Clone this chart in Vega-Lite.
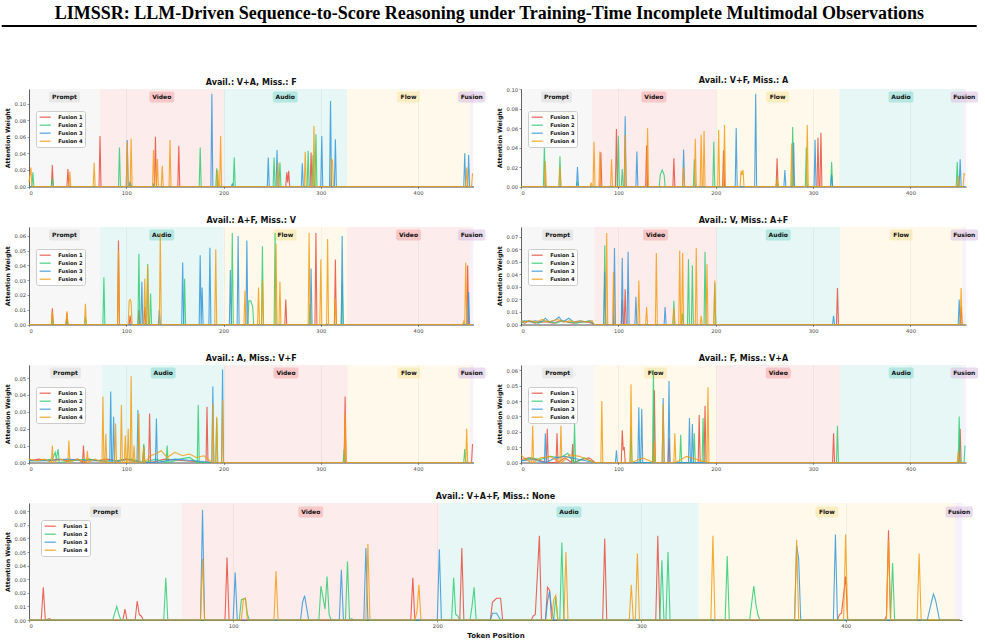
{
"$schema": "https://vega.github.io/schema/vega-lite/v6.json",
"padding": {"left": 0, "top": 5, "right": 5, "bottom": 5},
"background": "white",
"title": {"text": "LIMSSR: LLM-Driven Sequence-to-Score Reasoning under Training-Time Incomplete Multimodal Observations", "font": "Liberation Serif", "fontSize": 18, "fontWeight": "bold", "color": "#000", "offset": -12, "anchor": "middle", "baseline": "alphabetic"},
"config": {
 "view": {"stroke": null},
 "font": "DejaVu Sans",
 "axis": {"labelFont": "DejaVu Sans", "labelFontSize": 5.2, "labelColor": "#444", "labelOverlap": false, "tickSize": 2, "tickColor": "#555", "tickWidth": 0.6, "domainColor": "#333", "domainWidth": 0.9, "gridColor": "#cfcfcf", "gridOpacity": 0.45, "gridWidth": 0.6, "titleFont": "DejaVu Sans", "titleFontSize": 6.2, "titleFontWeight": "bold", "titleColor": "#111", "labelPadding": 1.5},
 "axisY": {"titlePadding": 3, "labelOverlap": false},
 "axisX": {"titleFontSize": 7, "titlePadding": 3},
 "legend": {"orient": "none", "title": null, "labelFont": "DejaVu Sans", "labelFontWeight": "bold", "labelFontSize": 5.2, "labelColor": "#111", "symbolType": "M-1.85,0H1.85", "symbolSize": 36, "symbolOffset": 3, "symbolStrokeWidth": 1.3, "symbolOpacity": 0.8, "rowPadding": 0, "padding": 2.2, "fillColor": "rgba(255,255,255,0.85)", "strokeColor": "#cccccc", "cornerRadius": 2, "labelOffset": 9},
 "title": {"font": "DejaVu Sans", "fontSize": 8, "fontWeight": "bold", "color": "#111", "offset": 1.8, "anchor": "middle", "baseline": "alphabetic"}
},
"datasets": {
 "regions": [
  {"p":1,"r":"Prompt","a":0,"b":73,"m":36.5},{"p":1,"r":"Video","a":73,"b":200,"m":136.5},{"p":1,"r":"Audio","a":200,"b":327,"m":263.5},{"p":1,"r":"Flow","a":327,"b":453.5,"m":390.2},{"p":1,"r":"Fusion","a":453.5,"b":457,"m":455.3},
  {"p":2,"r":"Prompt","a":0,"b":73,"m":36.5},{"p":2,"r":"Video","a":73,"b":200,"m":136.5},{"p":2,"r":"Flow","a":200,"b":327,"m":263.5},{"p":2,"r":"Audio","a":327,"b":453.5,"m":390.2},{"p":2,"r":"Fusion","a":453.5,"b":457,"m":455.3},
  {"p":3,"r":"Prompt","a":0,"b":73,"m":36.5},{"p":3,"r":"Audio","a":73,"b":200,"m":136.5},{"p":3,"r":"Flow","a":200,"b":327,"m":263.5},{"p":3,"r":"Video","a":327,"b":453.5,"m":390.2},{"p":3,"r":"Fusion","a":453.5,"b":457,"m":455.3},
  {"p":4,"r":"Prompt","a":0,"b":75.5,"m":37.7},{"p":4,"r":"Video","a":75.5,"b":201,"m":138.2},{"p":4,"r":"Audio","a":201,"b":327.5,"m":264.2},{"p":4,"r":"Flow","a":327.5,"b":453.5,"m":390.5},{"p":4,"r":"Fusion","a":453.5,"b":457,"m":455.3},
  {"p":5,"r":"Prompt","a":0,"b":75,"m":37.5},{"p":5,"r":"Audio","a":75,"b":201,"m":138},{"p":5,"r":"Video","a":201,"b":327.5,"m":264.2},{"p":5,"r":"Flow","a":327.5,"b":453.5,"m":390.5},{"p":5,"r":"Fusion","a":453.5,"b":457,"m":455.3},
  {"p":6,"r":"Prompt","a":0,"b":75.5,"m":37.7},{"p":6,"r":"Flow","a":75.5,"b":201,"m":138.2},{"p":6,"r":"Video","a":201,"b":327.5,"m":264.2},{"p":6,"r":"Audio","a":327.5,"b":453.5,"m":390.5},{"p":6,"r":"Fusion","a":453.5,"b":457,"m":455.3},
  {"p":7,"r":"Prompt","a":0,"b":75,"m":37.5},{"p":7,"r":"Video","a":75,"b":201,"m":138},{"p":7,"r":"Audio","a":201,"b":328,"m":264.5},{"p":7,"r":"Flow","a":328,"b":453.7,"m":390.8},{"p":7,"r":"Fusion","a":453.7,"b":457,"m":455.6}
 ],
 "p1": [
  {"s":1,"x":0,"y":0},{"s":1,"x":23,"y":0},{"s":1,"x":24,"y":0.026},{"s":1,"x":25,"y":0},{"s":1,"x":39,"y":0},{"s":1,"x":40,"y":0.021},{"s":1,"x":41,"y":0},{"s":1,"x":72,"y":0},{"s":1,"x":73,"y":0.061},{"s":1,"x":74,"y":0},{"s":1,"x":129,"y":0},{"s":1,"x":130,"y":0.06},{"s":1,"x":131,"y":0},{"s":1,"x":153,"y":0},{"s":1,"x":154,"y":0.049},{"s":1,"x":155,"y":0},{"s":1,"x":264,"y":0},{"s":1,"x":265,"y":0.017},{"s":1,"x":266,"y":0.005},{"s":1,"x":267,"y":0.019},{"s":1,"x":268,"y":0},{"s":1,"x":289,"y":0},{"s":1,"x":290,"y":0.041},{"s":1,"x":291,"y":0},{"s":1,"x":456,"y":0},
  {"s":2,"x":0,"y":0},{"s":2,"x":3,"y":0},{"s":2,"x":4,"y":0.017},{"s":2,"x":5,"y":0},{"s":2,"x":23,"y":0},{"s":2,"x":24,"y":0.01},{"s":2,"x":25,"y":0},{"s":2,"x":92,"y":0},{"s":2,"x":93,"y":0.047},{"s":2,"x":94,"y":0},{"s":2,"x":103,"y":0},{"s":2,"x":104,"y":0.005},{"s":2,"x":105,"y":0},{"s":2,"x":127,"y":0},{"s":2,"x":128,"y":0.003},{"s":2,"x":129,"y":0},{"s":2,"x":175,"y":0},{"s":2,"x":176,"y":0.047},{"s":2,"x":177,"y":0},{"s":2,"x":192,"y":0},{"s":2,"x":193,"y":0.022},{"s":2,"x":194,"y":0},{"s":2,"x":210,"y":0},{"s":2,"x":211,"y":0.035},{"s":2,"x":212,"y":0},{"s":2,"x":251,"y":0},{"s":2,"x":252,"y":0.035},{"s":2,"x":253,"y":0},{"s":2,"x":257,"y":0},{"s":2,"x":258,"y":0.029},{"s":2,"x":259,"y":0},{"s":2,"x":286,"y":0},{"s":2,"x":287,"y":0.043},{"s":2,"x":288,"y":0},{"s":2,"x":291,"y":0},{"s":2,"x":292,"y":0.038},{"s":2,"x":293,"y":0},{"s":2,"x":294,"y":0},{"s":2,"x":295,"y":0.063},{"s":2,"x":296,"y":0},{"s":2,"x":456,"y":0},
  {"s":3,"x":0,"y":0},{"s":3,"x":100,"y":0},{"s":3,"x":101,"y":0.056},{"s":3,"x":102,"y":0},{"s":3,"x":103,"y":0},{"s":3,"x":104,"y":0.006},{"s":3,"x":105,"y":0},{"s":3,"x":187,"y":0},{"s":3,"x":188,"y":0.112},{"s":3,"x":189,"y":0},{"s":3,"x":208,"y":0},{"s":3,"x":209,"y":0.003},{"s":3,"x":210,"y":0},{"s":3,"x":245,"y":0},{"s":3,"x":246,"y":0.035},{"s":3,"x":247,"y":0},{"s":3,"x":254,"y":0},{"s":3,"x":255,"y":0.044},{"s":3,"x":256,"y":0},{"s":3,"x":280,"y":0},{"s":3,"x":281,"y":0.028},{"s":3,"x":282,"y":0},{"s":3,"x":300,"y":0},{"s":3,"x":301,"y":0.061},{"s":3,"x":302,"y":0},{"s":3,"x":309,"y":0},{"s":3,"x":310,"y":0.103},{"s":3,"x":311,"y":0},{"s":3,"x":314,"y":0},{"s":3,"x":315,"y":0.057},{"s":3,"x":316,"y":0},{"s":3,"x":447,"y":0},{"s":3,"x":448,"y":0.04},{"s":3,"x":449,"y":0},{"s":3,"x":451,"y":0},{"s":3,"x":452,"y":0.038},{"s":3,"x":453,"y":0},{"s":3,"x":456,"y":0},
  {"s":4,"x":0,"y":0.005},{"s":4,"x":2,"y":0.023},{"s":4,"x":3,"y":0},{"s":4,"x":41,"y":0},{"s":4,"x":42,"y":0.018},{"s":4,"x":43,"y":0},{"s":4,"x":66,"y":0},{"s":4,"x":67,"y":0.029},{"s":4,"x":68,"y":0},{"s":4,"x":100,"y":0},{"s":4,"x":101,"y":0.054},{"s":4,"x":102,"y":0},{"s":4,"x":104,"y":0},{"s":4,"x":105,"y":0.058},{"s":4,"x":106,"y":0},{"s":4,"x":127,"y":0},{"s":4,"x":128,"y":0.044},{"s":4,"x":129,"y":0},{"s":4,"x":131,"y":0},{"s":4,"x":132,"y":0.033},{"s":4,"x":133,"y":0},{"s":4,"x":136,"y":0},{"s":4,"x":137,"y":0.025},{"s":4,"x":138,"y":0},{"s":4,"x":144,"y":0},{"s":4,"x":145,"y":0.056},{"s":4,"x":146,"y":0},{"s":4,"x":193,"y":0},{"s":4,"x":194,"y":0.02},{"s":4,"x":195,"y":0},{"s":4,"x":196,"y":0},{"s":4,"x":197,"y":0.061},{"s":4,"x":198,"y":0},{"s":4,"x":255,"y":0},{"s":4,"x":256,"y":0.029},{"s":4,"x":257,"y":0},{"s":4,"x":283,"y":0},{"s":4,"x":284,"y":0.042},{"s":4,"x":285,"y":0},{"s":4,"x":292,"y":0},{"s":4,"x":293,"y":0.073},{"s":4,"x":294,"y":0},{"s":4,"x":310,"y":0},{"s":4,"x":311,"y":0.033},{"s":4,"x":312,"y":0.032},{"s":4,"x":313,"y":0},{"s":4,"x":449,"y":0},{"s":4,"x":450,"y":0.023},{"s":4,"x":451,"y":0},{"s":4,"x":455,"y":0},{"s":4,"x":456,"y":0.016}
 ],
 "p2": [
  {"s":1,"x":0,"y":0},{"s":1,"x":81,"y":0},{"s":1,"x":82,"y":0.035},{"s":1,"x":83,"y":0},{"s":1,"x":97,"y":0},{"s":1,"x":98,"y":0.059},{"s":1,"x":99,"y":0},{"s":1,"x":128,"y":0},{"s":1,"x":129,"y":0.042},{"s":1,"x":130,"y":0},{"s":1,"x":156,"y":0},{"s":1,"x":157,"y":0.029},{"s":1,"x":158,"y":0},{"s":1,"x":207,"y":0},{"s":1,"x":208,"y":0.037},{"s":1,"x":209,"y":0},{"s":1,"x":262,"y":0},{"s":1,"x":263,"y":0.029},{"s":1,"x":264,"y":0},{"s":1,"x":304,"y":0},{"s":1,"x":305,"y":0.05},{"s":1,"x":306,"y":0},{"s":1,"x":307,"y":0},{"s":1,"x":308,"y":0.055},{"s":1,"x":309,"y":0},{"s":1,"x":456,"y":0},
  {"s":2,"x":0,"y":0},{"s":2,"x":23,"y":0},{"s":2,"x":24,"y":0.042},{"s":2,"x":25,"y":0},{"s":2,"x":39,"y":0},{"s":2,"x":40,"y":0.031},{"s":2,"x":41,"y":0},{"s":2,"x":57,"y":0},{"s":2,"x":58,"y":0.005},{"s":2,"x":59,"y":0},{"s":2,"x":99,"y":0},{"s":2,"x":100,"y":0.052},{"s":2,"x":101,"y":0},{"s":2,"x":103,"y":0},{"s":2,"x":104,"y":0.018},{"s":2,"x":105,"y":0},{"s":2,"x":142,"y":0},{"s":2,"x":143,"y":0.012},{"s":2,"x":145,"y":0.017},{"s":2,"x":147,"y":0.012},{"s":2,"x":148,"y":0},{"s":2,"x":177,"y":0},{"s":2,"x":178,"y":0.028},{"s":2,"x":179,"y":0},{"s":2,"x":197,"y":0},{"s":2,"x":198,"y":0.046},{"s":2,"x":199,"y":0},{"s":2,"x":262,"y":0},{"s":2,"x":263,"y":0.008},{"s":2,"x":264,"y":0},{"s":2,"x":278,"y":0},{"s":2,"x":279,"y":0.061},{"s":2,"x":280,"y":0},{"s":2,"x":292,"y":0},{"s":2,"x":293,"y":0.04},{"s":2,"x":294,"y":0},{"s":2,"x":318,"y":0},{"s":2,"x":319,"y":0.025},{"s":2,"x":320,"y":0},{"s":2,"x":447,"y":0},{"s":2,"x":448,"y":0.025},{"s":2,"x":449,"y":0},{"s":2,"x":456,"y":0},
  {"s":3,"x":0,"y":0},{"s":3,"x":57,"y":0},{"s":3,"x":58,"y":0.02},{"s":3,"x":59,"y":0},{"s":3,"x":106,"y":0},{"s":3,"x":107,"y":0.072},{"s":3,"x":108,"y":0},{"s":3,"x":118,"y":0},{"s":3,"x":119,"y":0.036},{"s":3,"x":120,"y":0},{"s":3,"x":166,"y":0},{"s":3,"x":167,"y":0.038},{"s":3,"x":168,"y":0},{"s":3,"x":220,"y":0},{"s":3,"x":221,"y":0.06},{"s":3,"x":222,"y":0},{"s":3,"x":240,"y":0},{"s":3,"x":241,"y":0.095},{"s":3,"x":242,"y":0},{"s":3,"x":270,"y":0},{"s":3,"x":271,"y":0.017},{"s":3,"x":272,"y":0},{"s":3,"x":279,"y":0},{"s":3,"x":280,"y":0.045},{"s":3,"x":281,"y":0},{"s":3,"x":301,"y":0},{"s":3,"x":302,"y":0.048},{"s":3,"x":303,"y":0},{"s":3,"x":318,"y":0},{"s":3,"x":319,"y":0.012},{"s":3,"x":320,"y":0},{"s":3,"x":450,"y":0},{"s":3,"x":451,"y":0.028},{"s":3,"x":452,"y":0},{"s":3,"x":456,"y":0},
  {"s":4,"x":0,"y":0},{"s":4,"x":24,"y":0},{"s":4,"x":25,"y":0.026},{"s":4,"x":26,"y":0},{"s":4,"x":39,"y":0},{"s":4,"x":40,"y":0.02},{"s":4,"x":41,"y":0},{"s":4,"x":71,"y":0},{"s":4,"x":72,"y":0.004},{"s":4,"x":73,"y":0},{"s":4,"x":74,"y":0},{"s":4,"x":75,"y":0.046},{"s":4,"x":76,"y":0},{"s":4,"x":80,"y":0},{"s":4,"x":81,"y":0.036},{"s":4,"x":82,"y":0},{"s":4,"x":92,"y":0},{"s":4,"x":93,"y":0.028},{"s":4,"x":94,"y":0},{"s":4,"x":106,"y":0},{"s":4,"x":107,"y":0.053},{"s":4,"x":108,"y":0},{"s":4,"x":129,"y":0},{"s":4,"x":130,"y":0.06},{"s":4,"x":131,"y":0},{"s":4,"x":166,"y":0},{"s":4,"x":167,"y":0.02},{"s":4,"x":168,"y":0},{"s":4,"x":178,"y":0},{"s":4,"x":179,"y":0.049},{"s":4,"x":180,"y":0},{"s":4,"x":184,"y":0},{"s":4,"x":185,"y":0.053},{"s":4,"x":186,"y":0},{"s":4,"x":187,"y":0},{"s":4,"x":188,"y":0.057},{"s":4,"x":189,"y":0},{"s":4,"x":202,"y":0},{"s":4,"x":203,"y":0.058},{"s":4,"x":204,"y":0},{"s":4,"x":208,"y":0},{"s":4,"x":209,"y":0.063},{"s":4,"x":210,"y":0},{"s":4,"x":225,"y":0},{"s":4,"x":226,"y":0.016},{"s":4,"x":227,"y":0.012},{"s":4,"x":228,"y":0.017},{"s":4,"x":229,"y":0},{"s":4,"x":262,"y":0},{"s":4,"x":263,"y":0.008},{"s":4,"x":264,"y":0},{"s":4,"x":277,"y":0},{"s":4,"x":278,"y":0.044},{"s":4,"x":279,"y":0},{"s":4,"x":293,"y":0},{"s":4,"x":294,"y":0.063},{"s":4,"x":295,"y":0},{"s":4,"x":448,"y":0},{"s":4,"x":449,"y":0.011},{"s":4,"x":450,"y":0},{"s":4,"x":454,"y":0},{"s":4,"x":455,"y":0.013},{"s":4,"x":456,"y":0.012}
 ],
 "p3": [
  {"s":1,"x":0,"y":0},{"s":1,"x":23,"y":0},{"s":1,"x":24,"y":0.011},{"s":1,"x":25,"y":0},{"s":1,"x":38,"y":0},{"s":1,"x":39,"y":0.008},{"s":1,"x":40,"y":0},{"s":1,"x":91,"y":0},{"s":1,"x":92,"y":0.057},{"s":1,"x":93,"y":0},{"s":1,"x":103,"y":0},{"s":1,"x":104,"y":0.006},{"s":1,"x":105,"y":0},{"s":1,"x":112,"y":0},{"s":1,"x":113,"y":0.01},{"s":1,"x":114,"y":0},{"s":1,"x":118,"y":0},{"s":1,"x":119,"y":0.012},{"s":1,"x":120,"y":0},{"s":1,"x":263,"y":0},{"s":1,"x":264,"y":0.017},{"s":1,"x":265,"y":0},{"s":1,"x":294,"y":0},{"s":1,"x":295,"y":0.062},{"s":1,"x":296,"y":0},{"s":1,"x":314,"y":0},{"s":1,"x":315,"y":0.044},{"s":1,"x":316,"y":0},{"s":1,"x":450,"y":0},{"s":1,"x":451,"y":0.04},{"s":1,"x":452,"y":0},{"s":1,"x":456,"y":0},
  {"s":2,"x":0,"y":0},{"s":2,"x":23,"y":0},{"s":2,"x":24,"y":0.004},{"s":2,"x":25,"y":0},{"s":2,"x":38,"y":0},{"s":2,"x":39,"y":0.003},{"s":2,"x":40,"y":0},{"s":2,"x":57,"y":0},{"s":2,"x":58,"y":0.005},{"s":2,"x":59,"y":0},{"s":2,"x":76,"y":0},{"s":2,"x":77,"y":0.032},{"s":2,"x":78,"y":0},{"s":2,"x":112,"y":0},{"s":2,"x":113,"y":0.048},{"s":2,"x":114,"y":0},{"s":2,"x":121,"y":0},{"s":2,"x":122,"y":0.041},{"s":2,"x":123,"y":0},{"s":2,"x":124,"y":0},{"s":2,"x":125,"y":0.021},{"s":2,"x":126,"y":0},{"s":2,"x":159,"y":0},{"s":2,"x":160,"y":0.031},{"s":2,"x":161,"y":0},{"s":2,"x":208,"y":0},{"s":2,"x":209,"y":0.062},{"s":2,"x":210,"y":0},{"s":2,"x":225,"y":0},{"s":2,"x":226,"y":0.016},{"s":2,"x":228,"y":0.016},{"s":2,"x":230,"y":0.012},{"s":2,"x":231,"y":0},{"s":2,"x":239,"y":0},{"s":2,"x":240,"y":0.053},{"s":2,"x":241,"y":0},{"s":2,"x":252,"y":0},{"s":2,"x":253,"y":0.062},{"s":2,"x":254,"y":0},{"s":2,"x":288,"y":0},{"s":2,"x":289,"y":0.014},{"s":2,"x":290,"y":0},{"s":2,"x":321,"y":0},{"s":2,"x":322,"y":0.028},{"s":2,"x":323,"y":0},{"s":2,"x":456,"y":0},
  {"s":3,"x":0,"y":0},{"s":3,"x":115,"y":0},{"s":3,"x":116,"y":0.029},{"s":3,"x":117,"y":0},{"s":3,"x":133,"y":0},{"s":3,"x":134,"y":0.01},{"s":3,"x":135,"y":0},{"s":3,"x":157,"y":0},{"s":3,"x":158,"y":0.042},{"s":3,"x":159,"y":0},{"s":3,"x":175,"y":0},{"s":3,"x":176,"y":0.047},{"s":3,"x":177,"y":0},{"s":3,"x":178,"y":0.025},{"s":3,"x":179,"y":0},{"s":3,"x":185,"y":0},{"s":3,"x":186,"y":0.052},{"s":3,"x":187,"y":0},{"s":3,"x":206,"y":0},{"s":3,"x":207,"y":0.037},{"s":3,"x":208,"y":0},{"s":3,"x":214,"y":0},{"s":3,"x":215,"y":0.06},{"s":3,"x":216,"y":0},{"s":3,"x":223,"y":0},{"s":3,"x":224,"y":0.057},{"s":3,"x":225,"y":0},{"s":3,"x":289,"y":0},{"s":3,"x":290,"y":0.038},{"s":3,"x":291,"y":0},{"s":3,"x":321,"y":0},{"s":3,"x":322,"y":0.06},{"s":3,"x":323,"y":0},{"s":3,"x":451,"y":0},{"s":3,"x":452,"y":0.022},{"s":3,"x":453,"y":0},{"s":3,"x":456,"y":0},
  {"s":4,"x":0,"y":0},{"s":4,"x":23,"y":0},{"s":4,"x":24,"y":0.009},{"s":4,"x":25,"y":0},{"s":4,"x":38,"y":0},{"s":4,"x":39,"y":0.009},{"s":4,"x":40,"y":0},{"s":4,"x":57,"y":0},{"s":4,"x":58,"y":0.014},{"s":4,"x":59,"y":0},{"s":4,"x":91,"y":0},{"s":4,"x":92,"y":0.05},{"s":4,"x":93,"y":0},{"s":4,"x":102,"y":0},{"s":4,"x":103,"y":0.016},{"s":4,"x":104,"y":0.017},{"s":4,"x":105,"y":0.015},{"s":4,"x":106,"y":0},{"s":4,"x":118,"y":0},{"s":4,"x":119,"y":0.031},{"s":4,"x":120,"y":0},{"s":4,"x":121,"y":0},{"s":4,"x":122,"y":0.04},{"s":4,"x":123,"y":0},{"s":4,"x":134,"y":0},{"s":4,"x":135,"y":0.062},{"s":4,"x":136,"y":0},{"s":4,"x":191,"y":0},{"s":4,"x":192,"y":0.051},{"s":4,"x":193,"y":0},{"s":4,"x":221,"y":0},{"s":4,"x":222,"y":0.023},{"s":4,"x":223,"y":0},{"s":4,"x":235,"y":0},{"s":4,"x":236,"y":0.025},{"s":4,"x":237,"y":0},{"s":4,"x":239,"y":0},{"s":4,"x":240,"y":0.03},{"s":4,"x":241,"y":0},{"s":4,"x":253,"y":0},{"s":4,"x":254,"y":0.055},{"s":4,"x":255,"y":0},{"s":4,"x":257,"y":0},{"s":4,"x":258,"y":0.029},{"s":4,"x":259,"y":0},{"s":4,"x":287,"y":0},{"s":4,"x":288,"y":0.062},{"s":4,"x":289,"y":0},{"s":4,"x":299,"y":0},{"s":4,"x":300,"y":0.044},{"s":4,"x":301,"y":0},{"s":4,"x":306,"y":0},{"s":4,"x":307,"y":0.058},{"s":4,"x":308,"y":0},{"s":4,"x":314,"y":0},{"s":4,"x":315,"y":0.018},{"s":4,"x":316,"y":0},{"s":4,"x":446,"y":0},{"s":4,"x":447,"y":0.002},{"s":4,"x":448,"y":0},{"s":4,"x":449,"y":0.042},{"s":4,"x":450,"y":0},{"s":4,"x":456,"y":0}
 ],
 "p4": [
  {"s":1,"x":0,"y":0.002},{"s":1,"x":4,"y":0.001},{"s":1,"x":8,"y":0.003},{"s":1,"x":14,"y":0.001},{"s":1,"x":20,"y":0.002},{"s":1,"x":27,"y":0.002},{"s":1,"x":33,"y":0.001},{"s":1,"x":40,"y":0.003},{"s":1,"x":47,"y":0.002},{"s":1,"x":54,"y":0.001},{"s":1,"x":60,"y":0.002},{"s":1,"x":67,"y":0.002},{"s":1,"x":73,"y":0.001},{"s":1,"x":75,"y":0},{"s":1,"x":103,"y":0},{"s":1,"x":104,"y":0.02},{"s":1,"x":105,"y":0},{"s":1,"x":106,"y":0},{"s":1,"x":107,"y":0.028},{"s":1,"x":108,"y":0},{"s":1,"x":324,"y":0},{"s":1,"x":325,"y":0.029},{"s":1,"x":326,"y":0},{"s":1,"x":451,"y":0},{"s":1,"x":452,"y":0.014},{"s":1,"x":453,"y":0},{"s":1,"x":456,"y":0},
  {"s":2,"x":0,"y":0.001},{"s":2,"x":6,"y":0.003},{"s":2,"x":12,"y":0.002},{"s":2,"x":18,"y":0.001},{"s":2,"x":24,"y":0.003},{"s":2,"x":30,"y":0.002},{"s":2,"x":36,"y":0.001},{"s":2,"x":43,"y":0.003},{"s":2,"x":50,"y":0.002},{"s":2,"x":57,"y":0.001},{"s":2,"x":63,"y":0.002},{"s":2,"x":70,"y":0.003},{"s":2,"x":75,"y":0},{"s":2,"x":85,"y":0},{"s":2,"x":86,"y":0.063},{"s":2,"x":87,"y":0},{"s":2,"x":156,"y":0},{"s":2,"x":157,"y":0.019},{"s":2,"x":158,"y":0},{"s":2,"x":165,"y":0},{"s":2,"x":166,"y":0.009},{"s":2,"x":167,"y":0},{"s":2,"x":171,"y":0},{"s":2,"x":172,"y":0.052},{"s":2,"x":173,"y":0},{"s":2,"x":175,"y":0},{"s":2,"x":176,"y":0.047},{"s":2,"x":177,"y":0},{"s":2,"x":188,"y":0},{"s":2,"x":189,"y":0.058},{"s":2,"x":190,"y":0},{"s":2,"x":198,"y":0},{"s":2,"x":199,"y":0.033},{"s":2,"x":200,"y":0},{"s":2,"x":456,"y":0},
  {"s":3,"x":0,"y":0.002},{"s":3,"x":3,"y":0.003},{"s":3,"x":9,"y":0.002},{"s":3,"x":15,"y":0.003},{"s":3,"x":21,"y":0.002},{"s":3,"x":25,"y":0.005},{"s":3,"x":29,"y":0.002},{"s":3,"x":34,"y":0.003},{"s":3,"x":39,"y":0.006},{"s":3,"x":43,"y":0.002},{"s":3,"x":49,"y":0.005},{"s":3,"x":54,"y":0.002},{"s":3,"x":60,"y":0.003},{"s":3,"x":66,"y":0.002},{"s":3,"x":71,"y":0.003},{"s":3,"x":75,"y":0},{"s":3,"x":85,"y":0},{"s":3,"x":86,"y":0.042},{"s":3,"x":87,"y":0},{"s":3,"x":95,"y":0},{"s":3,"x":96,"y":0.061},{"s":3,"x":97,"y":0},{"s":3,"x":103,"y":0},{"s":3,"x":104,"y":0.053},{"s":3,"x":105,"y":0},{"s":3,"x":109,"y":0},{"s":3,"x":110,"y":0.058},{"s":3,"x":111,"y":0},{"s":3,"x":117,"y":0},{"s":3,"x":118,"y":0.022},{"s":3,"x":119,"y":0},{"s":3,"x":147,"y":0},{"s":3,"x":148,"y":0.014},{"s":3,"x":149,"y":0},{"s":3,"x":320,"y":0},{"s":3,"x":321,"y":0.007},{"s":3,"x":322,"y":0},{"s":3,"x":449,"y":0},{"s":3,"x":450,"y":0.02},{"s":3,"x":451,"y":0},{"s":3,"x":456,"y":0},
  {"s":4,"x":0,"y":0.003},{"s":4,"x":5,"y":0.002},{"s":4,"x":10,"y":0.003},{"s":4,"x":16,"y":0.002},{"s":4,"x":22,"y":0.004},{"s":4,"x":27,"y":0.002},{"s":4,"x":32,"y":0.003},{"s":4,"x":38,"y":0.004},{"s":4,"x":44,"y":0.002},{"s":4,"x":50,"y":0.003},{"s":4,"x":56,"y":0.002},{"s":4,"x":62,"y":0.003},{"s":4,"x":68,"y":0.002},{"s":4,"x":73,"y":0.003},{"s":4,"x":75,"y":0},{"s":4,"x":87,"y":0},{"s":4,"x":88,"y":0.073},{"s":4,"x":89,"y":0},{"s":4,"x":94,"y":0},{"s":4,"x":95,"y":0.042},{"s":4,"x":96,"y":0},{"s":4,"x":120,"y":0},{"s":4,"x":121,"y":0.035},{"s":4,"x":122,"y":0},{"s":4,"x":128,"y":0},{"s":4,"x":129,"y":0.014},{"s":4,"x":130,"y":0},{"s":4,"x":138,"y":0},{"s":4,"x":139,"y":0.057},{"s":4,"x":140,"y":0},{"s":4,"x":156,"y":0},{"s":4,"x":157,"y":0.013},{"s":4,"x":158,"y":0},{"s":4,"x":162,"y":0},{"s":4,"x":163,"y":0.059},{"s":4,"x":164,"y":0},{"s":4,"x":165,"y":0},{"s":4,"x":166,"y":0.057},{"s":4,"x":167,"y":0},{"s":4,"x":179,"y":0},{"s":4,"x":180,"y":0.061},{"s":4,"x":181,"y":0},{"s":4,"x":184,"y":0},{"s":4,"x":185,"y":0.007},{"s":4,"x":186,"y":0},{"s":4,"x":190,"y":0},{"s":4,"x":191,"y":0.048},{"s":4,"x":192,"y":0},{"s":4,"x":198,"y":0},{"s":4,"x":199,"y":0.035},{"s":4,"x":200,"y":0},{"s":4,"x":451,"y":0},{"s":4,"x":452,"y":0.029},{"s":4,"x":453,"y":0},{"s":4,"x":456,"y":0}
 ],
 "p5": [
  {"s":1,"x":0,"y":0.001},{"s":1,"x":10,"y":0.002},{"s":1,"x":20,"y":0.001},{"s":1,"x":30,"y":0.002},{"s":1,"x":40,"y":0.001},{"s":1,"x":50,"y":0.002},{"s":1,"x":55,"y":0},{"s":1,"x":56,"y":0.01},{"s":1,"x":57,"y":0},{"s":1,"x":62,"y":0.002},{"s":1,"x":70,"y":0.001},{"s":1,"x":80,"y":0.002},{"s":1,"x":90,"y":0.001},{"s":1,"x":100,"y":0.002},{"s":1,"x":110,"y":0.001},{"s":1,"x":117,"y":0},{"s":1,"x":118,"y":0.01},{"s":1,"x":119,"y":0},{"s":1,"x":123,"y":0},{"s":1,"x":124,"y":0.029},{"s":1,"x":125,"y":0},{"s":1,"x":140,"y":0.002},{"s":1,"x":160,"y":0.001},{"s":1,"x":182,"y":0},{"s":1,"x":183,"y":0.033},{"s":1,"x":184,"y":0},{"s":1,"x":200,"y":0},{"s":1,"x":324,"y":0},{"s":1,"x":325,"y":0.039},{"s":1,"x":326,"y":0},{"s":1,"x":455,"y":0},{"s":1,"x":456,"y":0.011},
  {"s":2,"x":0,"y":0.001},{"s":2,"x":12,"y":0.001},{"s":2,"x":24,"y":0.002},{"s":2,"x":27,"y":0.006},{"s":2,"x":28,"y":0.002},{"s":2,"x":30,"y":0.008},{"s":2,"x":31,"y":0},{"s":2,"x":45,"y":0.001},{"s":2,"x":60,"y":0.002},{"s":2,"x":75,"y":0.001},{"s":2,"x":90,"y":0.001},{"s":2,"x":105,"y":0.002},{"s":2,"x":117,"y":0},{"s":2,"x":118,"y":0.011},{"s":2,"x":119,"y":0},{"s":2,"x":130,"y":0.002},{"s":2,"x":141,"y":0},{"s":2,"x":142,"y":0.01},{"s":2,"x":143,"y":0},{"s":2,"x":155,"y":0.002},{"s":2,"x":165,"y":0.003},{"s":2,"x":173,"y":0},{"s":2,"x":174,"y":0.034},{"s":2,"x":175,"y":0},{"s":2,"x":192,"y":0},{"s":2,"x":193,"y":0.026},{"s":2,"x":194,"y":0},{"s":2,"x":200,"y":0},{"s":2,"x":323,"y":0},{"s":2,"x":324,"y":0.008},{"s":2,"x":325,"y":0},{"s":2,"x":447,"y":0},{"s":2,"x":448,"y":0.008},{"s":2,"x":449,"y":0},{"s":2,"x":456,"y":0},
  {"s":3,"x":0,"y":0.001},{"s":3,"x":20,"y":0.001},{"s":3,"x":40,"y":0.002},{"s":3,"x":60,"y":0.001},{"s":3,"x":75,"y":0.001},{"s":3,"x":83,"y":0},{"s":3,"x":84,"y":0.042},{"s":3,"x":85,"y":0},{"s":3,"x":86,"y":0},{"s":3,"x":87,"y":0.027},{"s":3,"x":88,"y":0},{"s":3,"x":100,"y":0.002},{"s":3,"x":111,"y":0},{"s":3,"x":112,"y":0.031},{"s":3,"x":113,"y":0},{"s":3,"x":130,"y":0},{"s":3,"x":131,"y":0.026},{"s":3,"x":132,"y":0},{"s":3,"x":150,"y":0.002},{"s":3,"x":170,"y":0.001},{"s":3,"x":188,"y":0},{"s":3,"x":189,"y":0.045},{"s":3,"x":190,"y":0},{"s":3,"x":198,"y":0},{"s":3,"x":199,"y":0.055},{"s":3,"x":200,"y":0},{"s":3,"x":456,"y":0},
  {"s":4,"x":0,"y":0.002},{"s":4,"x":8,"y":0.001},{"s":4,"x":16,"y":0.002},{"s":4,"x":23,"y":0},{"s":4,"x":24,"y":0.01},{"s":4,"x":25,"y":0},{"s":4,"x":33,"y":0.002},{"s":4,"x":40,"y":0},{"s":4,"x":41,"y":0.013},{"s":4,"x":42,"y":0},{"s":4,"x":50,"y":0.002},{"s":4,"x":59,"y":0},{"s":4,"x":60,"y":0.007},{"s":4,"x":61,"y":0},{"s":4,"x":68,"y":0.002},{"s":4,"x":75,"y":0},{"s":4,"x":76,"y":0.039},{"s":4,"x":77,"y":0},{"s":4,"x":78,"y":0},{"s":4,"x":79,"y":0.017},{"s":4,"x":80,"y":0},{"s":4,"x":88,"y":0},{"s":4,"x":89,"y":0.023},{"s":4,"x":90,"y":0},{"s":4,"x":94,"y":0},{"s":4,"x":95,"y":0.034},{"s":4,"x":96,"y":0},{"s":4,"x":98,"y":0},{"s":4,"x":99,"y":0.016},{"s":4,"x":100,"y":0},{"s":4,"x":101,"y":0},{"s":4,"x":102,"y":0.02},{"s":4,"x":103,"y":0},{"s":4,"x":104,"y":0},{"s":4,"x":105,"y":0.051},{"s":4,"x":106,"y":0},{"s":4,"x":107,"y":0},{"s":4,"x":108,"y":0.01},{"s":4,"x":109,"y":0},{"s":4,"x":112,"y":0},{"s":4,"x":113,"y":0.029},{"s":4,"x":114,"y":0},{"s":4,"x":117,"y":0},{"s":4,"x":118,"y":0.009},{"s":4,"x":119,"y":0},{"s":4,"x":125,"y":0.004},{"s":4,"x":130,"y":0.005},{"s":4,"x":136,"y":0.007},{"s":4,"x":142,"y":0.003},{"s":4,"x":150,"y":0.006},{"s":4,"x":158,"y":0.004},{"s":4,"x":165,"y":0.005},{"s":4,"x":172,"y":0.003},{"s":4,"x":180,"y":0.004},{"s":4,"x":188,"y":0},{"s":4,"x":189,"y":0.035},{"s":4,"x":190,"y":0},{"s":4,"x":192,"y":0},{"s":4,"x":193,"y":0.027},{"s":4,"x":194,"y":0},{"s":4,"x":198,"y":0},{"s":4,"x":199,"y":0.037},{"s":4,"x":200,"y":0},{"s":4,"x":324,"y":0},{"s":4,"x":325,"y":0.029},{"s":4,"x":326,"y":0},{"s":4,"x":449,"y":0},{"s":4,"x":450,"y":0.02},{"s":4,"x":451,"y":0},{"s":4,"x":456,"y":0}
 ],
 "p6": [
  {"s":1,"x":0,"y":0.002},{"s":1,"x":8,"y":0.003},{"s":1,"x":16,"y":0.002},{"s":1,"x":26,"y":0},{"s":1,"x":27,"y":0.022},{"s":1,"x":28,"y":0},{"s":1,"x":36,"y":0},{"s":1,"x":37,"y":0.019},{"s":1,"x":38,"y":0},{"s":1,"x":45,"y":0.003},{"s":1,"x":52,"y":0},{"s":1,"x":53,"y":0.012},{"s":1,"x":54,"y":0},{"s":1,"x":62,"y":0.002},{"s":1,"x":70,"y":0.003},{"s":1,"x":76,"y":0},{"s":1,"x":103,"y":0},{"s":1,"x":104,"y":0.021},{"s":1,"x":105,"y":0.008},{"s":1,"x":106,"y":0.01},{"s":1,"x":107,"y":0},{"s":1,"x":136,"y":0},{"s":1,"x":137,"y":0.047},{"s":1,"x":138,"y":0},{"s":1,"x":151,"y":0},{"s":1,"x":152,"y":0.016},{"s":1,"x":153,"y":0},{"s":1,"x":182,"y":0},{"s":1,"x":183,"y":0.031},{"s":1,"x":184,"y":0},{"s":1,"x":188,"y":0},{"s":1,"x":189,"y":0.037},{"s":1,"x":190,"y":0},{"s":1,"x":200,"y":0},{"s":1,"x":320,"y":0},{"s":1,"x":321,"y":0.019},{"s":1,"x":322,"y":0},{"s":1,"x":450,"y":0},{"s":1,"x":451,"y":0.022},{"s":1,"x":452,"y":0},{"s":1,"x":456,"y":0},
  {"s":2,"x":0,"y":0.001},{"s":2,"x":10,"y":0.003},{"s":2,"x":20,"y":0.002},{"s":2,"x":30,"y":0.004},{"s":2,"x":40,"y":0.003},{"s":2,"x":48,"y":0.006},{"s":2,"x":54,"y":0},{"s":2,"x":55,"y":0.025},{"s":2,"x":56,"y":0},{"s":2,"x":65,"y":0.003},{"s":2,"x":75,"y":0},{"s":2,"x":112,"y":0},{"s":2,"x":113,"y":0.023},{"s":2,"x":114,"y":0},{"s":2,"x":135,"y":0},{"s":2,"x":136,"y":0.06},{"s":2,"x":137,"y":0},{"s":2,"x":163,"y":0},{"s":2,"x":164,"y":0.018},{"s":2,"x":165,"y":0},{"s":2,"x":177,"y":0},{"s":2,"x":178,"y":0.019},{"s":2,"x":179,"y":0},{"s":2,"x":186,"y":0},{"s":2,"x":187,"y":0.029},{"s":2,"x":188,"y":0},{"s":2,"x":200,"y":0},{"s":2,"x":324,"y":0},{"s":2,"x":325,"y":0.024},{"s":2,"x":326,"y":0},{"s":2,"x":449,"y":0},{"s":2,"x":450,"y":0.03},{"s":2,"x":451,"y":0},{"s":2,"x":455,"y":0},{"s":2,"x":456,"y":0.011},
  {"s":3,"x":0,"y":0.001},{"s":3,"x":12,"y":0.002},{"s":3,"x":24,"y":0},{"s":3,"x":25,"y":0.019},{"s":3,"x":26,"y":0},{"s":3,"x":35,"y":0.003},{"s":3,"x":45,"y":0.004},{"s":3,"x":60,"y":0.002},{"s":3,"x":75,"y":0},{"s":3,"x":97,"y":0},{"s":3,"x":98,"y":0.008},{"s":3,"x":99,"y":0},{"s":3,"x":120,"y":0},{"s":3,"x":121,"y":0.036},{"s":3,"x":122,"y":0},{"s":3,"x":123,"y":0},{"s":3,"x":124,"y":0.035},{"s":3,"x":125,"y":0},{"s":3,"x":145,"y":0},{"s":3,"x":146,"y":0.042},{"s":3,"x":147,"y":0},{"s":3,"x":151,"y":0},{"s":3,"x":152,"y":0.053},{"s":3,"x":153,"y":0},{"s":3,"x":172,"y":0},{"s":3,"x":173,"y":0.029},{"s":3,"x":174,"y":0},{"s":3,"x":175,"y":0},{"s":3,"x":176,"y":0.025},{"s":3,"x":177,"y":0},{"s":3,"x":200,"y":0},{"s":3,"x":456,"y":0},
  {"s":4,"x":0,"y":0.005},{"s":4,"x":5,"y":0.002},{"s":4,"x":11,"y":0},{"s":4,"x":12,"y":0.024},{"s":4,"x":13,"y":0},{"s":4,"x":20,"y":0.003},{"s":4,"x":30,"y":0.004},{"s":4,"x":40,"y":0},{"s":4,"x":41,"y":0.024},{"s":4,"x":42,"y":0},{"s":4,"x":50,"y":0.005},{"s":4,"x":60,"y":0.004},{"s":4,"x":68,"y":0.002},{"s":4,"x":75,"y":0},{"s":4,"x":82,"y":0},{"s":4,"x":83,"y":0.04},{"s":4,"x":84,"y":0},{"s":4,"x":112,"y":0},{"s":4,"x":113,"y":0.051},{"s":4,"x":114,"y":0},{"s":4,"x":125,"y":0.003},{"s":4,"x":136,"y":0},{"s":4,"x":137,"y":0.014},{"s":4,"x":138,"y":0},{"s":4,"x":145,"y":0},{"s":4,"x":146,"y":0.038},{"s":4,"x":147,"y":0},{"s":4,"x":157,"y":0},{"s":4,"x":158,"y":0.019},{"s":4,"x":159,"y":0},{"s":4,"x":170,"y":0.004},{"s":4,"x":191,"y":0},{"s":4,"x":192,"y":0.049},{"s":4,"x":193,"y":0},{"s":4,"x":200,"y":0},{"s":4,"x":448,"y":0},{"s":4,"x":449,"y":0.007},{"s":4,"x":450,"y":0},{"s":4,"x":456,"y":0}
 ],
 "p7": [
  {"s":1,"x":0,"y":0},{"s":1,"x":6,"y":0},{"s":1,"x":7,"y":0.024},{"s":1,"x":8,"y":0},{"s":1,"x":10,"y":0.001},{"s":1,"x":11,"y":0},{"s":1,"x":46,"y":0},{"s":1,"x":47,"y":0.008},{"s":1,"x":48,"y":0},{"s":1,"x":52,"y":0},{"s":1,"x":53,"y":0.014},{"s":1,"x":54,"y":0.004},{"s":1,"x":55,"y":0.003},{"s":1,"x":56,"y":0},{"s":1,"x":96,"y":0},{"s":1,"x":97,"y":0.046},{"s":1,"x":98,"y":0},{"s":1,"x":187,"y":0},{"s":1,"x":188,"y":0.031},{"s":1,"x":189,"y":0},{"s":1,"x":211,"y":0},{"s":1,"x":212,"y":0.053},{"s":1,"x":213,"y":0},{"s":1,"x":226,"y":0},{"s":1,"x":227,"y":0.013},{"s":1,"x":229,"y":0.016},{"s":1,"x":231,"y":0.016},{"s":1,"x":232,"y":0},{"s":1,"x":246,"y":0},{"s":1,"x":247,"y":0.003},{"s":1,"x":248,"y":0.004},{"s":1,"x":250,"y":0.062},{"s":1,"x":251,"y":0},{"s":1,"x":253,"y":0},{"s":1,"x":254,"y":0.024},{"s":1,"x":255,"y":0.022},{"s":1,"x":256,"y":0},{"s":1,"x":281,"y":0},{"s":1,"x":282,"y":0.06},{"s":1,"x":283,"y":0},{"s":1,"x":307,"y":0},{"s":1,"x":308,"y":0.062},{"s":1,"x":309,"y":0},{"s":1,"x":396,"y":0},{"s":1,"x":397,"y":0.004},{"s":1,"x":398,"y":0.005},{"s":1,"x":400,"y":0.032},{"s":1,"x":401,"y":0},{"s":1,"x":419,"y":0},{"s":1,"x":420,"y":0.003},{"s":1,"x":421,"y":0.066},{"s":1,"x":422,"y":0},{"s":1,"x":456,"y":0},
  {"s":2,"x":0,"y":0},{"s":2,"x":41,"y":0},{"s":2,"x":42,"y":0.005},{"s":2,"x":43,"y":0.01},{"s":2,"x":44,"y":0.004},{"s":2,"x":45,"y":0},{"s":2,"x":66,"y":0},{"s":2,"x":67,"y":0.031},{"s":2,"x":68,"y":0},{"s":2,"x":103,"y":0},{"s":2,"x":104,"y":0.015},{"s":2,"x":106,"y":0.016},{"s":2,"x":107,"y":0.004},{"s":2,"x":108,"y":0},{"s":2,"x":142,"y":0},{"s":2,"x":143,"y":0.025},{"s":2,"x":145,"y":0.008},{"s":2,"x":146,"y":0.032},{"s":2,"x":147,"y":0.004},{"s":2,"x":148,"y":0},{"s":2,"x":155,"y":0},{"s":2,"x":156,"y":0.043},{"s":2,"x":157,"y":0},{"s":2,"x":158,"y":0.001},{"s":2,"x":159,"y":0},{"s":2,"x":207,"y":0},{"s":2,"x":208,"y":0.031},{"s":2,"x":209,"y":0.004},{"s":2,"x":210,"y":0.003},{"s":2,"x":211,"y":0},{"s":2,"x":216,"y":0},{"s":2,"x":217,"y":0.01},{"s":2,"x":218,"y":0.024},{"s":2,"x":219,"y":0},{"s":2,"x":257,"y":0},{"s":2,"x":258,"y":0.017},{"s":2,"x":259,"y":0},{"s":2,"x":260,"y":0},{"s":2,"x":261,"y":0.057},{"s":2,"x":262,"y":0},{"s":2,"x":309,"y":0},{"s":2,"x":310,"y":0.044},{"s":2,"x":311,"y":0},{"s":2,"x":312,"y":0},{"s":2,"x":313,"y":0.05},{"s":2,"x":314,"y":0},{"s":2,"x":341,"y":0},{"s":2,"x":342,"y":0.047},{"s":2,"x":343,"y":0},{"s":2,"x":353,"y":0},{"s":2,"x":355,"y":0.025},{"s":2,"x":356,"y":0.012},{"s":2,"x":357,"y":0.004},{"s":2,"x":358,"y":0},{"s":2,"x":422,"y":0},{"s":2,"x":423,"y":0.042},{"s":2,"x":424,"y":0},{"s":2,"x":456,"y":0},
  {"s":3,"x":0,"y":0},{"s":3,"x":84,"y":0},{"s":3,"x":85,"y":0.081},{"s":3,"x":86,"y":0},{"s":3,"x":100,"y":0},{"s":3,"x":101,"y":0.035},{"s":3,"x":102,"y":0},{"s":3,"x":133,"y":0},{"s":3,"x":134,"y":0.013},{"s":3,"x":135,"y":0.018},{"s":3,"x":137,"y":0},{"s":3,"x":152,"y":0},{"s":3,"x":153,"y":0.037},{"s":3,"x":154,"y":0},{"s":3,"x":164,"y":0},{"s":3,"x":165,"y":0.053},{"s":3,"x":166,"y":0},{"s":3,"x":200,"y":0},{"s":3,"x":201,"y":0.052},{"s":3,"x":202,"y":0},{"s":3,"x":226,"y":0},{"s":3,"x":227,"y":0.005},{"s":3,"x":229,"y":0.005},{"s":3,"x":231,"y":0},{"s":3,"x":253,"y":0},{"s":3,"x":254,"y":0.014},{"s":3,"x":255,"y":0.021},{"s":3,"x":256,"y":0.008},{"s":3,"x":257,"y":0},{"s":3,"x":375,"y":0},{"s":3,"x":376,"y":0.055},{"s":3,"x":377,"y":0.045},{"s":3,"x":378,"y":0},{"s":3,"x":394,"y":0},{"s":3,"x":395,"y":0.063},{"s":3,"x":396,"y":0},{"s":3,"x":440,"y":0},{"s":3,"x":442,"y":0.013},{"s":3,"x":443,"y":0.019},{"s":3,"x":444,"y":0.015},{"s":3,"x":446,"y":0},{"s":3,"x":456,"y":0},
  {"s":4,"x":0,"y":0},{"s":4,"x":84,"y":0},{"s":4,"x":85,"y":0.045},{"s":4,"x":86,"y":0},{"s":4,"x":104,"y":0},{"s":4,"x":105,"y":0.015},{"s":4,"x":106,"y":0.016},{"s":4,"x":107,"y":0},{"s":4,"x":120,"y":0},{"s":4,"x":121,"y":0.036},{"s":4,"x":122,"y":0},{"s":4,"x":165,"y":0},{"s":4,"x":166,"y":0.056},{"s":4,"x":167,"y":0},{"s":4,"x":189,"y":0},{"s":4,"x":190,"y":0.006},{"s":4,"x":191,"y":0.026},{"s":4,"x":192,"y":0},{"s":4,"x":256,"y":0},{"s":4,"x":257,"y":0.015},{"s":4,"x":258,"y":0.018},{"s":4,"x":259,"y":0},{"s":4,"x":262,"y":0},{"s":4,"x":263,"y":0.05},{"s":4,"x":264,"y":0},{"s":4,"x":294,"y":0},{"s":4,"x":295,"y":0.026},{"s":4,"x":296,"y":0},{"s":4,"x":297,"y":0},{"s":4,"x":298,"y":0.049},{"s":4,"x":299,"y":0},{"s":4,"x":334,"y":0},{"s":4,"x":335,"y":0.062},{"s":4,"x":336,"y":0},{"s":4,"x":375,"y":0},{"s":4,"x":376,"y":0.059},{"s":4,"x":377,"y":0},{"s":4,"x":399,"y":0},{"s":4,"x":400,"y":0.063},{"s":4,"x":401,"y":0},{"s":4,"x":420,"y":0},{"s":4,"x":421,"y":0.059},{"s":4,"x":422,"y":0},{"s":4,"x":435,"y":0},{"s":4,"x":436,"y":0.049},{"s":4,"x":437,"y":0},{"s":4,"x":456,"y":0}
 ]
},
"vconcat": [
 {"width": 948, "height": 29.6, "data": {"values": [{"a": 0, "b": 1}]}, "mark": {"type": "rule", "strokeWidth": 2, "color": "#000"}, "encoding": {"x": {"field": "a", "type": "quantitative", "scale": {"domain": [0, 1], "nice": false, "range": [-27.3, 947.7]}, "axis": null}, "x2": {"field": "b"}, "y": {"datum": 1, "type": "quantitative", "scale": {"domain": [0, 1]}, "axis": null}}},
 {"hconcat": [
  {"width": 444.5, "height": 97.5, "title": {"text": "Avail.: V+A, Miss.: F"}, "layer": [
   {"data": {"name": "regions"}, "transform": [{"filter": "datum.p == 1"}], "mark": {"type": "rect", "opacity": 0.2}, "encoding": {"x": {"field": "a", "type": "quantitative", "scale": {"domain": [0, 457], "nice": false, "zero": false}, "axis": {"values": [0, 100, 200, 300, 400], "format": "d", "title": null}}, "x2": {"field": "b"}, "fill": {"field": "r", "type": "nominal", "scale": {"domain": ["Prompt", "Video", "Audio", "Flow", "Fusion"], "range": ["#d7d7d7", "#f5a1a1", "#81d7cf", "#fce399", "#d7b8df"]}, "legend": null}}},
   {"data": {"name": "regions"}, "transform": [{"filter": "datum.p == 1"}], "mark": {"type": "point", "filled": true, "size": 900, "opacity": 0.5, "strokeWidth": 0, "yOffset": 8}, "encoding": {"x": {"field": "m", "type": "quantitative", "axis": {"title": null}}, "y": {"datum": 0.1176, "type": "quantitative"}, "fill": {"field": "r", "type": "nominal", "legend": null}, "shape": {"field": "r", "type": "nominal", "scale": {"domain": ["Prompt", "Video", "Audio", "Flow", "Fusion"], "range": ["M-0.91,-0.36H0.91A0.12,0.12 0 0 1 1.03,-0.24V0.24A0.12,0.12 0 0 1 0.91,0.36H-0.91A0.12,0.12 0 0 1 -1.03,0.24V-0.24A0.12,0.12 0 0 1 -0.91,-0.36Z", "M-0.71,-0.36H0.71A0.12,0.12 0 0 1 0.83,-0.24V0.24A0.12,0.12 0 0 1 0.71,0.36H-0.71A0.12,0.12 0 0 1 -0.83,0.24V-0.24A0.12,0.12 0 0 1 -0.71,-0.36Z", "M-0.71,-0.36H0.71A0.12,0.12 0 0 1 0.83,-0.24V0.24A0.12,0.12 0 0 1 0.71,0.36H-0.71A0.12,0.12 0 0 1 -0.83,0.24V-0.24A0.12,0.12 0 0 1 -0.71,-0.36Z", "M-0.64,-0.36H0.64A0.12,0.12 0 0 1 0.76,-0.24V0.24A0.12,0.12 0 0 1 0.64,0.36H-0.64A0.12,0.12 0 0 1 -0.76,0.24V-0.24A0.12,0.12 0 0 1 -0.64,-0.36Z", "M-0.79,-0.36H0.79A0.12,0.12 0 0 1 0.91,-0.24V0.24A0.12,0.12 0 0 1 0.79,0.36H-0.79A0.12,0.12 0 0 1 -0.91,0.24V-0.24A0.12,0.12 0 0 1 -0.79,-0.36Z"]}, "legend": null}}},
   {"data": {"name": "regions"}, "transform": [{"filter": "datum.p == 1"}], "mark": {"type": "text", "font": "DejaVu Sans", "fontSize": 6, "fontWeight": "bold", "color": "#111", "yOffset": 8, "baseline": "middle"}, "encoding": {"x": {"field": "m", "type": "quantitative", "axis": {"title": null}}, "y": {"datum": 0.1176, "type": "quantitative"}, "text": {"field": "r"}}},
   {"data": {"name": "p1"}, "mark": {"type": "line", "strokeWidth": 1.1, "opacity": 0.85}, "encoding": {"x": {"field": "x", "type": "quantitative", "axis": {"title": null}}, "y": {"field": "y", "type": "quantitative", "scale": {"domain": [0, 0.1176], "nice": false, "zero": false}, "axis": {"values": [0, 0.02, 0.04, 0.06, 0.08, 0.1], "tickCount": 12, "format": ".2f", "labelOverlap": false, "title": "Attention Weight"}}, "color": {"field": "s", "type": "nominal", "scale": {"domain": [1, 2, 3, 4], "range": ["#e74c3c", "#2ecc71", "#3498db", "#f39c12"]}, "legend": {"legendX": 7, "legendY": 22, "labelExpr": "'Fusion ' + datum.label"}}}}
  ]},
  {"width": 445, "height": 97.5, "title": {"text": "Avail.: V+F, Miss.: A"}, "layer": [
   {"data": {"name": "regions"}, "transform": [{"filter": "datum.p == 2"}], "mark": {"type": "rect", "opacity": 0.2}, "encoding": {"x": {"field": "a", "type": "quantitative", "scale": {"domain": [0, 457], "nice": false, "zero": false}, "axis": {"values": [0, 100, 200, 300, 400], "format": "d", "title": null}}, "x2": {"field": "b"}, "fill": {"field": "r", "type": "nominal", "scale": {"domain": ["Prompt", "Video", "Audio", "Flow", "Fusion"], "range": ["#d7d7d7", "#f5a1a1", "#81d7cf", "#fce399", "#d7b8df"]}, "legend": null}}},
   {"data": {"name": "regions"}, "transform": [{"filter": "datum.p == 2"}], "mark": {"type": "point", "filled": true, "size": 900, "opacity": 0.5, "strokeWidth": 0, "yOffset": 8}, "encoding": {"x": {"field": "m", "type": "quantitative", "axis": {"title": null}}, "y": {"datum": 0.1, "type": "quantitative"}, "fill": {"field": "r", "type": "nominal", "legend": null}, "shape": {"field": "r", "type": "nominal", "scale": {"domain": ["Prompt", "Video", "Audio", "Flow", "Fusion"], "range": ["M-0.91,-0.36H0.91A0.12,0.12 0 0 1 1.03,-0.24V0.24A0.12,0.12 0 0 1 0.91,0.36H-0.91A0.12,0.12 0 0 1 -1.03,0.24V-0.24A0.12,0.12 0 0 1 -0.91,-0.36Z", "M-0.71,-0.36H0.71A0.12,0.12 0 0 1 0.83,-0.24V0.24A0.12,0.12 0 0 1 0.71,0.36H-0.71A0.12,0.12 0 0 1 -0.83,0.24V-0.24A0.12,0.12 0 0 1 -0.71,-0.36Z", "M-0.71,-0.36H0.71A0.12,0.12 0 0 1 0.83,-0.24V0.24A0.12,0.12 0 0 1 0.71,0.36H-0.71A0.12,0.12 0 0 1 -0.83,0.24V-0.24A0.12,0.12 0 0 1 -0.71,-0.36Z", "M-0.64,-0.36H0.64A0.12,0.12 0 0 1 0.76,-0.24V0.24A0.12,0.12 0 0 1 0.64,0.36H-0.64A0.12,0.12 0 0 1 -0.76,0.24V-0.24A0.12,0.12 0 0 1 -0.64,-0.36Z", "M-0.79,-0.36H0.79A0.12,0.12 0 0 1 0.91,-0.24V0.24A0.12,0.12 0 0 1 0.79,0.36H-0.79A0.12,0.12 0 0 1 -0.91,0.24V-0.24A0.12,0.12 0 0 1 -0.79,-0.36Z"]}, "legend": null}}},
   {"data": {"name": "regions"}, "transform": [{"filter": "datum.p == 2"}], "mark": {"type": "text", "font": "DejaVu Sans", "fontSize": 6, "fontWeight": "bold", "color": "#111", "yOffset": 8, "baseline": "middle"}, "encoding": {"x": {"field": "m", "type": "quantitative", "axis": {"title": null}}, "y": {"datum": 0.1, "type": "quantitative"}, "text": {"field": "r"}}},
   {"data": {"name": "p2"}, "mark": {"type": "line", "strokeWidth": 1.1, "opacity": 0.85}, "encoding": {"x": {"field": "x", "type": "quantitative", "axis": {"title": null}}, "y": {"field": "y", "type": "quantitative", "scale": {"domain": [0, 0.1], "nice": false, "zero": false}, "axis": {"values": [0, 0.02, 0.04, 0.06, 0.08, 0.1], "tickCount": 12, "format": ".2f", "labelOverlap": false, "title": "Attention Weight"}}, "color": {"field": "s", "type": "nominal", "scale": {"domain": [1, 2, 3, 4], "range": ["#e74c3c", "#2ecc71", "#3498db", "#f39c12"]}, "legend": {"legendX": 7, "legendY": 22, "labelExpr": "'Fusion ' + datum.label"}}}}
  ]}
 ], "spacing": 10, "resolve": {"scale": {"x": "independent", "y": "independent", "color": "independent", "fill": "independent", "shape": "independent"}, "legend": {"color": "independent"}}},
 {"hconcat": [
  {"width": 444.5, "height": 97.5, "title": {"text": "Avail.: A+F, Miss.: V"}, "layer": [
   {"data": {"name": "regions"}, "transform": [{"filter": "datum.p == 3"}], "mark": {"type": "rect", "opacity": 0.2}, "encoding": {"x": {"field": "a", "type": "quantitative", "scale": {"domain": [0, 457], "nice": false, "zero": false}, "axis": {"values": [0, 100, 200, 300, 400], "format": "d", "title": null}}, "x2": {"field": "b"}, "fill": {"field": "r", "type": "nominal", "scale": {"domain": ["Prompt", "Video", "Audio", "Flow", "Fusion"], "range": ["#d7d7d7", "#f5a1a1", "#81d7cf", "#fce399", "#d7b8df"]}, "legend": null}}},
   {"data": {"name": "regions"}, "transform": [{"filter": "datum.p == 3"}], "mark": {"type": "point", "filled": true, "size": 900, "opacity": 0.5, "strokeWidth": 0, "yOffset": 8}, "encoding": {"x": {"field": "m", "type": "quantitative", "axis": {"title": null}}, "y": {"datum": 0.0661, "type": "quantitative"}, "fill": {"field": "r", "type": "nominal", "legend": null}, "shape": {"field": "r", "type": "nominal", "scale": {"domain": ["Prompt", "Video", "Audio", "Flow", "Fusion"], "range": ["M-0.91,-0.36H0.91A0.12,0.12 0 0 1 1.03,-0.24V0.24A0.12,0.12 0 0 1 0.91,0.36H-0.91A0.12,0.12 0 0 1 -1.03,0.24V-0.24A0.12,0.12 0 0 1 -0.91,-0.36Z", "M-0.71,-0.36H0.71A0.12,0.12 0 0 1 0.83,-0.24V0.24A0.12,0.12 0 0 1 0.71,0.36H-0.71A0.12,0.12 0 0 1 -0.83,0.24V-0.24A0.12,0.12 0 0 1 -0.71,-0.36Z", "M-0.71,-0.36H0.71A0.12,0.12 0 0 1 0.83,-0.24V0.24A0.12,0.12 0 0 1 0.71,0.36H-0.71A0.12,0.12 0 0 1 -0.83,0.24V-0.24A0.12,0.12 0 0 1 -0.71,-0.36Z", "M-0.64,-0.36H0.64A0.12,0.12 0 0 1 0.76,-0.24V0.24A0.12,0.12 0 0 1 0.64,0.36H-0.64A0.12,0.12 0 0 1 -0.76,0.24V-0.24A0.12,0.12 0 0 1 -0.64,-0.36Z", "M-0.79,-0.36H0.79A0.12,0.12 0 0 1 0.91,-0.24V0.24A0.12,0.12 0 0 1 0.79,0.36H-0.79A0.12,0.12 0 0 1 -0.91,0.24V-0.24A0.12,0.12 0 0 1 -0.79,-0.36Z"]}, "legend": null}}},
   {"data": {"name": "regions"}, "transform": [{"filter": "datum.p == 3"}], "mark": {"type": "text", "font": "DejaVu Sans", "fontSize": 6, "fontWeight": "bold", "color": "#111", "yOffset": 8, "baseline": "middle"}, "encoding": {"x": {"field": "m", "type": "quantitative", "axis": {"title": null}}, "y": {"datum": 0.0661, "type": "quantitative"}, "text": {"field": "r"}}},
   {"data": {"name": "p3"}, "mark": {"type": "line", "strokeWidth": 1.1, "opacity": 0.85}, "encoding": {"x": {"field": "x", "type": "quantitative", "axis": {"title": null}}, "y": {"field": "y", "type": "quantitative", "scale": {"domain": [0, 0.0661], "nice": false, "zero": false}, "axis": {"values": [0, 0.01, 0.02, 0.03, 0.04, 0.05, 0.06], "tickCount": 12, "format": ".2f", "labelOverlap": false, "title": "Attention Weight"}}, "color": {"field": "s", "type": "nominal", "scale": {"domain": [1, 2, 3, 4], "range": ["#e74c3c", "#2ecc71", "#3498db", "#f39c12"]}, "legend": {"legendX": 7, "legendY": 22, "labelExpr": "'Fusion ' + datum.label"}}}}
  ]},
  {"width": 445, "height": 97.5, "title": {"text": "Avail.: V, Miss.: A+F"}, "layer": [
   {"data": {"name": "regions"}, "transform": [{"filter": "datum.p == 4"}], "mark": {"type": "rect", "opacity": 0.2}, "encoding": {"x": {"field": "a", "type": "quantitative", "scale": {"domain": [0, 457], "nice": false, "zero": false}, "axis": {"values": [0, 100, 200, 300, 400], "format": "d", "title": null}}, "x2": {"field": "b"}, "fill": {"field": "r", "type": "nominal", "scale": {"domain": ["Prompt", "Video", "Audio", "Flow", "Fusion"], "range": ["#d7d7d7", "#f5a1a1", "#81d7cf", "#fce399", "#d7b8df"]}, "legend": null}}},
   {"data": {"name": "regions"}, "transform": [{"filter": "datum.p == 4"}], "mark": {"type": "point", "filled": true, "size": 900, "opacity": 0.5, "strokeWidth": 0, "yOffset": 8}, "encoding": {"x": {"field": "m", "type": "quantitative", "axis": {"title": null}}, "y": {"datum": 0.0777, "type": "quantitative"}, "fill": {"field": "r", "type": "nominal", "legend": null}, "shape": {"field": "r", "type": "nominal", "scale": {"domain": ["Prompt", "Video", "Audio", "Flow", "Fusion"], "range": ["M-0.91,-0.36H0.91A0.12,0.12 0 0 1 1.03,-0.24V0.24A0.12,0.12 0 0 1 0.91,0.36H-0.91A0.12,0.12 0 0 1 -1.03,0.24V-0.24A0.12,0.12 0 0 1 -0.91,-0.36Z", "M-0.71,-0.36H0.71A0.12,0.12 0 0 1 0.83,-0.24V0.24A0.12,0.12 0 0 1 0.71,0.36H-0.71A0.12,0.12 0 0 1 -0.83,0.24V-0.24A0.12,0.12 0 0 1 -0.71,-0.36Z", "M-0.71,-0.36H0.71A0.12,0.12 0 0 1 0.83,-0.24V0.24A0.12,0.12 0 0 1 0.71,0.36H-0.71A0.12,0.12 0 0 1 -0.83,0.24V-0.24A0.12,0.12 0 0 1 -0.71,-0.36Z", "M-0.64,-0.36H0.64A0.12,0.12 0 0 1 0.76,-0.24V0.24A0.12,0.12 0 0 1 0.64,0.36H-0.64A0.12,0.12 0 0 1 -0.76,0.24V-0.24A0.12,0.12 0 0 1 -0.64,-0.36Z", "M-0.79,-0.36H0.79A0.12,0.12 0 0 1 0.91,-0.24V0.24A0.12,0.12 0 0 1 0.79,0.36H-0.79A0.12,0.12 0 0 1 -0.91,0.24V-0.24A0.12,0.12 0 0 1 -0.79,-0.36Z"]}, "legend": null}}},
   {"data": {"name": "regions"}, "transform": [{"filter": "datum.p == 4"}], "mark": {"type": "text", "font": "DejaVu Sans", "fontSize": 6, "fontWeight": "bold", "color": "#111", "yOffset": 8, "baseline": "middle"}, "encoding": {"x": {"field": "m", "type": "quantitative", "axis": {"title": null}}, "y": {"datum": 0.0777, "type": "quantitative"}, "text": {"field": "r"}}},
   {"data": {"name": "p4"}, "mark": {"type": "line", "strokeWidth": 1.1, "opacity": 0.85}, "encoding": {"x": {"field": "x", "type": "quantitative", "axis": {"title": null}}, "y": {"field": "y", "type": "quantitative", "scale": {"domain": [0, 0.0777], "nice": false, "zero": false}, "axis": {"values": [0, 0.01, 0.02, 0.03, 0.04, 0.05, 0.06, 0.07], "tickCount": 12, "format": ".2f", "labelOverlap": false, "title": "Attention Weight"}}, "color": {"field": "s", "type": "nominal", "scale": {"domain": [1, 2, 3, 4], "range": ["#e74c3c", "#2ecc71", "#3498db", "#f39c12"]}, "legend": {"legendX": 7, "legendY": 22, "labelExpr": "'Fusion ' + datum.label"}}}}
  ]}
 ], "spacing": 10, "resolve": {"scale": {"x": "independent", "y": "independent", "color": "independent", "fill": "independent", "shape": "independent"}, "legend": {"color": "independent"}}},
 {"hconcat": [
  {"width": 444.5, "height": 97.5, "title": {"text": "Avail.: A, Miss.: V+F"}, "layer": [
   {"data": {"name": "regions"}, "transform": [{"filter": "datum.p == 5"}], "mark": {"type": "rect", "opacity": 0.2}, "encoding": {"x": {"field": "a", "type": "quantitative", "scale": {"domain": [0, 457], "nice": false, "zero": false}, "axis": {"values": [0, 100, 200, 300, 400], "format": "d", "title": null}}, "x2": {"field": "b"}, "fill": {"field": "r", "type": "nominal", "scale": {"domain": ["Prompt", "Video", "Audio", "Flow", "Fusion"], "range": ["#d7d7d7", "#f5a1a1", "#81d7cf", "#fce399", "#d7b8df"]}, "legend": null}}},
   {"data": {"name": "regions"}, "transform": [{"filter": "datum.p == 5"}], "mark": {"type": "point", "filled": true, "size": 900, "opacity": 0.5, "strokeWidth": 0, "yOffset": 8}, "encoding": {"x": {"field": "m", "type": "quantitative", "axis": {"title": null}}, "y": {"datum": 0.0577, "type": "quantitative"}, "fill": {"field": "r", "type": "nominal", "legend": null}, "shape": {"field": "r", "type": "nominal", "scale": {"domain": ["Prompt", "Video", "Audio", "Flow", "Fusion"], "range": ["M-0.91,-0.36H0.91A0.12,0.12 0 0 1 1.03,-0.24V0.24A0.12,0.12 0 0 1 0.91,0.36H-0.91A0.12,0.12 0 0 1 -1.03,0.24V-0.24A0.12,0.12 0 0 1 -0.91,-0.36Z", "M-0.71,-0.36H0.71A0.12,0.12 0 0 1 0.83,-0.24V0.24A0.12,0.12 0 0 1 0.71,0.36H-0.71A0.12,0.12 0 0 1 -0.83,0.24V-0.24A0.12,0.12 0 0 1 -0.71,-0.36Z", "M-0.71,-0.36H0.71A0.12,0.12 0 0 1 0.83,-0.24V0.24A0.12,0.12 0 0 1 0.71,0.36H-0.71A0.12,0.12 0 0 1 -0.83,0.24V-0.24A0.12,0.12 0 0 1 -0.71,-0.36Z", "M-0.64,-0.36H0.64A0.12,0.12 0 0 1 0.76,-0.24V0.24A0.12,0.12 0 0 1 0.64,0.36H-0.64A0.12,0.12 0 0 1 -0.76,0.24V-0.24A0.12,0.12 0 0 1 -0.64,-0.36Z", "M-0.79,-0.36H0.79A0.12,0.12 0 0 1 0.91,-0.24V0.24A0.12,0.12 0 0 1 0.79,0.36H-0.79A0.12,0.12 0 0 1 -0.91,0.24V-0.24A0.12,0.12 0 0 1 -0.79,-0.36Z"]}, "legend": null}}},
   {"data": {"name": "regions"}, "transform": [{"filter": "datum.p == 5"}], "mark": {"type": "text", "font": "DejaVu Sans", "fontSize": 6, "fontWeight": "bold", "color": "#111", "yOffset": 8, "baseline": "middle"}, "encoding": {"x": {"field": "m", "type": "quantitative", "axis": {"title": null}}, "y": {"datum": 0.0577, "type": "quantitative"}, "text": {"field": "r"}}},
   {"data": {"name": "p5"}, "mark": {"type": "line", "strokeWidth": 1.1, "opacity": 0.85}, "encoding": {"x": {"field": "x", "type": "quantitative", "axis": {"title": null}}, "y": {"field": "y", "type": "quantitative", "scale": {"domain": [0, 0.0577], "nice": false, "zero": false}, "axis": {"values": [0, 0.01, 0.02, 0.03, 0.04, 0.05], "tickCount": 12, "format": ".2f", "labelOverlap": false, "title": "Attention Weight"}}, "color": {"field": "s", "type": "nominal", "scale": {"domain": [1, 2, 3, 4], "range": ["#e74c3c", "#2ecc71", "#3498db", "#f39c12"]}, "legend": {"legendX": 7, "legendY": 22, "labelExpr": "'Fusion ' + datum.label"}}}}
  ]},
  {"width": 445, "height": 97.5, "title": {"text": "Avail.: F, Miss.: V+A"}, "layer": [
   {"data": {"name": "regions"}, "transform": [{"filter": "datum.p == 6"}], "mark": {"type": "rect", "opacity": 0.2}, "encoding": {"x": {"field": "a", "type": "quantitative", "scale": {"domain": [0, 457], "nice": false, "zero": false}, "axis": {"values": [0, 100, 200, 300, 400], "format": "d", "title": null}}, "x2": {"field": "b"}, "fill": {"field": "r", "type": "nominal", "scale": {"domain": ["Prompt", "Video", "Audio", "Flow", "Fusion"], "range": ["#d7d7d7", "#f5a1a1", "#81d7cf", "#fce399", "#d7b8df"]}, "legend": null}}},
   {"data": {"name": "regions"}, "transform": [{"filter": "datum.p == 6"}], "mark": {"type": "point", "filled": true, "size": 900, "opacity": 0.5, "strokeWidth": 0, "yOffset": 8}, "encoding": {"x": {"field": "m", "type": "quantitative", "axis": {"title": null}}, "y": {"datum": 0.0635, "type": "quantitative"}, "fill": {"field": "r", "type": "nominal", "legend": null}, "shape": {"field": "r", "type": "nominal", "scale": {"domain": ["Prompt", "Video", "Audio", "Flow", "Fusion"], "range": ["M-0.91,-0.36H0.91A0.12,0.12 0 0 1 1.03,-0.24V0.24A0.12,0.12 0 0 1 0.91,0.36H-0.91A0.12,0.12 0 0 1 -1.03,0.24V-0.24A0.12,0.12 0 0 1 -0.91,-0.36Z", "M-0.71,-0.36H0.71A0.12,0.12 0 0 1 0.83,-0.24V0.24A0.12,0.12 0 0 1 0.71,0.36H-0.71A0.12,0.12 0 0 1 -0.83,0.24V-0.24A0.12,0.12 0 0 1 -0.71,-0.36Z", "M-0.71,-0.36H0.71A0.12,0.12 0 0 1 0.83,-0.24V0.24A0.12,0.12 0 0 1 0.71,0.36H-0.71A0.12,0.12 0 0 1 -0.83,0.24V-0.24A0.12,0.12 0 0 1 -0.71,-0.36Z", "M-0.64,-0.36H0.64A0.12,0.12 0 0 1 0.76,-0.24V0.24A0.12,0.12 0 0 1 0.64,0.36H-0.64A0.12,0.12 0 0 1 -0.76,0.24V-0.24A0.12,0.12 0 0 1 -0.64,-0.36Z", "M-0.79,-0.36H0.79A0.12,0.12 0 0 1 0.91,-0.24V0.24A0.12,0.12 0 0 1 0.79,0.36H-0.79A0.12,0.12 0 0 1 -0.91,0.24V-0.24A0.12,0.12 0 0 1 -0.79,-0.36Z"]}, "legend": null}}},
   {"data": {"name": "regions"}, "transform": [{"filter": "datum.p == 6"}], "mark": {"type": "text", "font": "DejaVu Sans", "fontSize": 6, "fontWeight": "bold", "color": "#111", "yOffset": 8, "baseline": "middle"}, "encoding": {"x": {"field": "m", "type": "quantitative", "axis": {"title": null}}, "y": {"datum": 0.0635, "type": "quantitative"}, "text": {"field": "r"}}},
   {"data": {"name": "p6"}, "mark": {"type": "line", "strokeWidth": 1.1, "opacity": 0.85}, "encoding": {"x": {"field": "x", "type": "quantitative", "axis": {"title": null}}, "y": {"field": "y", "type": "quantitative", "scale": {"domain": [0, 0.0635], "nice": false, "zero": false}, "axis": {"values": [0, 0.01, 0.02, 0.03, 0.04, 0.05, 0.06], "tickCount": 12, "format": ".2f", "labelOverlap": false, "title": "Attention Weight"}}, "color": {"field": "s", "type": "nominal", "scale": {"domain": [1, 2, 3, 4], "range": ["#e74c3c", "#2ecc71", "#3498db", "#f39c12"]}, "legend": {"legendX": 7, "legendY": 22, "labelExpr": "'Fusion ' + datum.label"}}}}
  ]}
 ], "spacing": 10, "resolve": {"scale": {"x": "independent", "y": "independent", "color": "independent", "fill": "independent", "shape": "independent"}, "legend": {"color": "independent"}}},
 {"width": 933, "height": 117, "title": {"text": "Avail.: V+A+F, Miss.: None"}, "layer": [
   {"data": {"name": "regions"}, "transform": [{"filter": "datum.p == 7"}], "mark": {"type": "rect", "opacity": 0.2}, "encoding": {"x": {"field": "a", "type": "quantitative", "scale": {"domain": [0, 457], "nice": false, "zero": false}, "axis": {"values": [0, 100, 200, 300, 400], "format": "d", "title": "Token Position"}}, "x2": {"field": "b"}, "fill": {"field": "r", "type": "nominal", "scale": {"domain": ["Prompt", "Video", "Audio", "Flow", "Fusion"], "range": ["#d7d7d7", "#f5a1a1", "#81d7cf", "#fce399", "#d7b8df"]}, "legend": null}}},
   {"data": {"name": "regions"}, "transform": [{"filter": "datum.p == 7"}], "mark": {"type": "point", "filled": true, "size": 900, "opacity": 0.5, "strokeWidth": 0, "yOffset": 9}, "encoding": {"x": {"field": "m", "type": "quantitative"}, "y": {"datum": 0.0861, "type": "quantitative"}, "fill": {"field": "r", "type": "nominal", "legend": null}, "shape": {"field": "r", "type": "nominal", "scale": {"domain": ["Prompt", "Video", "Audio", "Flow", "Fusion"], "range": ["M-0.91,-0.36H0.91A0.12,0.12 0 0 1 1.03,-0.24V0.24A0.12,0.12 0 0 1 0.91,0.36H-0.91A0.12,0.12 0 0 1 -1.03,0.24V-0.24A0.12,0.12 0 0 1 -0.91,-0.36Z", "M-0.71,-0.36H0.71A0.12,0.12 0 0 1 0.83,-0.24V0.24A0.12,0.12 0 0 1 0.71,0.36H-0.71A0.12,0.12 0 0 1 -0.83,0.24V-0.24A0.12,0.12 0 0 1 -0.71,-0.36Z", "M-0.71,-0.36H0.71A0.12,0.12 0 0 1 0.83,-0.24V0.24A0.12,0.12 0 0 1 0.71,0.36H-0.71A0.12,0.12 0 0 1 -0.83,0.24V-0.24A0.12,0.12 0 0 1 -0.71,-0.36Z", "M-0.64,-0.36H0.64A0.12,0.12 0 0 1 0.76,-0.24V0.24A0.12,0.12 0 0 1 0.64,0.36H-0.64A0.12,0.12 0 0 1 -0.76,0.24V-0.24A0.12,0.12 0 0 1 -0.64,-0.36Z", "M-0.79,-0.36H0.79A0.12,0.12 0 0 1 0.91,-0.24V0.24A0.12,0.12 0 0 1 0.79,0.36H-0.79A0.12,0.12 0 0 1 -0.91,0.24V-0.24A0.12,0.12 0 0 1 -0.79,-0.36Z"]}, "legend": null}}},
   {"data": {"name": "regions"}, "transform": [{"filter": "datum.p == 7"}], "mark": {"type": "text", "font": "DejaVu Sans", "fontSize": 6, "fontWeight": "bold", "color": "#111", "yOffset": 9, "baseline": "middle"}, "encoding": {"x": {"field": "m", "type": "quantitative"}, "y": {"datum": 0.0861, "type": "quantitative"}, "text": {"field": "r"}}},
   {"data": {"name": "p7"}, "mark": {"type": "line", "strokeWidth": 1.1, "opacity": 0.85}, "encoding": {"x": {"field": "x", "type": "quantitative"}, "y": {"field": "y", "type": "quantitative", "scale": {"domain": [0, 0.0861], "nice": false, "zero": false}, "axis": {"values": [0, 0.01, 0.02, 0.03, 0.04, 0.05, 0.06, 0.07, 0.08], "tickCount": 12, "format": ".2f", "labelOverlap": false, "title": "Attention Weight"}}, "color": {"field": "s", "type": "nominal", "scale": {"domain": [1, 2, 3, 4], "range": ["#e74c3c", "#2ecc71", "#3498db", "#f39c12"]}, "legend": {"legendX": 12, "legendY": 17, "labelExpr": "'Fusion ' + datum.label"}}}}
 ]}
],
"spacing": 21,
"resolve": {"scale": {"x": "independent", "y": "independent", "color": "independent", "fill": "independent", "shape": "independent"}, "legend": {"color": "independent"}}
}
